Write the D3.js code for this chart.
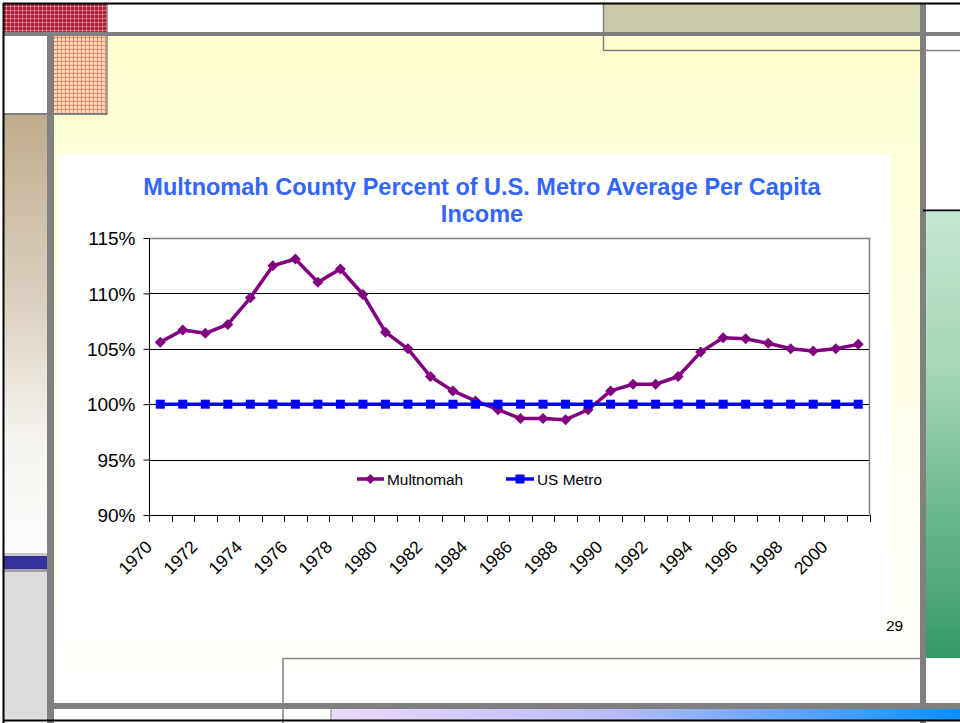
<!DOCTYPE html>
<html>
<head>
<meta charset="utf-8">
<script src="https://cdn.jsdelivr.net/npm/d3@7/dist/d3.min.js"></script>
<style>
  html, body { margin: 0; padding: 0; background: #fff; }
  svg { display: block; }
  text { font-family: "Liberation Sans", Arial, Helvetica, sans-serif; }
</style>
</head>
<body>
<svg id="chart" width="960" height="723"></svg>
<script>
// ---- Data ----
const years = [1970,1971,1972,1973,1974,1975,1976,1977,1978,1979,
               1980,1981,1982,1983,1984,1985,1986,1987,1988,1989,
               1990,1991,1992,1993,1994,1995,1996,1997,1998,1999,
               2000,2001];
const multnomah = [105.6,106.7,106.4,107.2,109.6,112.5,113.1,111.0,112.2,109.9,
                   106.5,105.0,102.5,101.2,100.3,99.5,98.7,98.7,98.6,99.5,
                   101.2,101.8,101.8,102.5,104.7,106.0,105.9,105.5,105.0,104.8,
                   105.0,105.4];
const usMetro = [100,100,100,100,100,100,100,100,100,100,
                 100,100,100,100,100,100,100,100,100,100,
                 100,100,100,100,100,100,100,100,100,100,
                 100,100];
const yTicks = [90,95,100,105,110,115];
const xTickLabels = [1970,1972,1974,1976,1978,1980,1982,1984,1986,1988,1990,1992,1994,1996,1998,2000];
const seriesNames = ["Multnomah","US Metro"];
const titleLines = ["Multnomah County Percent of U.S. Metro Average Per Capita","Income"];
const pageNumber = "29";

const svg = d3.select("#chart");
const defs = svg.append("defs");

// ---- Slide decoration ----
const g1 = defs.append("linearGradient").attr("id","bgYellow").attr("x1",0).attr("y1",0).attr("x2",0).attr("y2",1);
g1.append("stop").attr("offset","0%").attr("stop-color","#FFFFD0");
g1.append("stop").attr("offset","100%").attr("stop-color","#FFFFFF");
const g2 = defs.append("linearGradient").attr("id","tan").attr("x1",0).attr("y1",0).attr("x2",0).attr("y2",1);
g2.append("stop").attr("offset","0%").attr("stop-color","#BEAC8C");
g2.append("stop").attr("offset","45%").attr("stop-color","#DDD3C4");
g2.append("stop").attr("offset","75%").attr("stop-color","#F6F4F0");
g2.append("stop").attr("offset","100%").attr("stop-color","#FDFDFC");
const g3 = defs.append("linearGradient").attr("id","green").attr("x1",0).attr("y1",0).attr("x2",0).attr("y2",1);
g3.append("stop").attr("offset","0%").attr("stop-color","#C4E7D1");
g3.append("stop").attr("offset","35%").attr("stop-color","#A6D6B9");
g3.append("stop").attr("offset","100%").attr("stop-color","#339966");
const g4 = defs.append("linearGradient").attr("id","blueBar").attr("x1",0).attr("y1",0).attr("x2",1).attr("y2",0);
g4.append("stop").attr("offset","0%").attr("stop-color","#EDDAFB");
g4.append("stop").attr("offset","45%").attr("stop-color","#B9BCF7");
g4.append("stop").attr("offset","100%").attr("stop-color","#0A8FFF");

const pRed = defs.append("pattern").attr("id","plaidRed").attr("patternUnits","userSpaceOnUse").attr("width",4).attr("height",4);
pRed.append("rect").attr("width",4).attr("height",4).attr("fill","#B41E36");
pRed.append("rect").attr("x",2).attr("width",1).attr("height",4).attr("fill","#D86876");
pRed.append("rect").attr("y",2).attr("width",4).attr("height",1).attr("fill","#D86876");
pRed.append("rect").attr("x",2).attr("y",2).attr("width",1).attr("height",1).attr("fill","#F0B0B0");
const pOr = defs.append("pattern").attr("id","plaidOrange").attr("patternUnits","userSpaceOnUse").attr("width",4).attr("height",4);
pOr.append("rect").attr("width",4).attr("height",4).attr("fill","#F8D6B0");
pOr.append("rect").attr("x",1).attr("width",1).attr("height",4).attr("fill","#EE8A70");
pOr.append("rect").attr("y",1).attr("width",4).attr("height",1).attr("fill","#EE8A70");
pOr.append("rect").attr("x",3).attr("y",3).attr("width",1).attr("height",1).attr("fill","#FFF0D0");

const deco = svg.append("g");
const R = (x,y,w,h,fill) => deco.append("rect").attr("x",x).attr("y",y).attr("width",w).attr("height",h).attr("fill",fill);
const L = (x1,y1,x2,y2,stroke,w) => deco.append("line").attr("x1",x1).attr("y1",y1).attr("x2",x2).attr("y2",y2).attr("stroke",stroke).attr("stroke-width",w);

R(0,0,960,723,"#FFFFFF");
R(54,36,866,668,"url(#bgYellow)");
// top-left plaid blocks
R(4,4,103,28,"url(#plaidRed)");
R(54,36,52,77,"url(#plaidOrange)");
L(107,4,107,115,"#808080",1.5);
R(4,113,103,2,"#808080");
// left column
R(4,115,43,438,"url(#tan)");
R(4,553,43,3,"#C8C8C8");
R(4,556,43,13,"#333399");
R(4,569,43,3,"#A0A0A0");
R(4,572,43,147,"#DCDCDC");
// khaki top-right block
R(603,4,317,28,"#C9C8A9");
deco.append("path").attr("d","M603.5,4 V50.5 H960").attr("fill","none").attr("stroke","#808080").attr("stroke-width",1.5);
// gray bars
R(4,32,956,4,"#808080");
R(47,32,7,691,"#808080");
R(920,4,6,719,"#808080");
// right green block
L(923,210.5,960,210.5,"#000",2);
R(926,211.5,34,446.5,"url(#green)");
// bottom
deco.append("path").attr("d","M283,723 V658.5 H920").attr("fill","none").attr("stroke","#808080").attr("stroke-width",1.5);
R(47,703,913,6,"#808080");
R(331,709,629,11,"url(#blueBar)");
L(331,709,331,720,"#808080",1);
// black outer border
L(3.5,3,3.5,723,"#000",2);
L(3,3.5,960,3.5,"#000",2);
L(3,720.5,960,720.5,"#000",2);

// chart white box
R(59,154,832,486,"#FFFFFF");

// ---- Chart ----
const plot = {left:149, right:869.5, top:238, bottom:515};
const x = d3.scaleBand().domain(years).range([plot.left, plot.right]).paddingInner(0).paddingOuter(0);
const y = d3.scaleLinear().domain([90,115]).range([plot.bottom, plot.top]);
const cx = d => x(d) + x.bandwidth()/2;

const chart = svg.append("g");

// title
chart.append("text").attr("x",482).attr("y",195).attr("text-anchor","middle")
  .attr("font-size","23.5px").attr("font-weight","bold").attr("fill","#3366FF")
  .selectAll("tspan").data(titleLines).join("tspan")
  .attr("x",482).attr("dy",(d,i)=> i===0 ? 0 : 27).text(d=>d);

// gridlines
chart.append("g").selectAll("line").data(yTicks.filter(t=>t>90 && t<115)).join("line")
  .attr("x1",plot.left).attr("x2",plot.right)
  .attr("y1",d=>Math.round(y(d))+0.5).attr("y2",d=>Math.round(y(d))+0.5)
  .attr("stroke","#000").attr("stroke-width",1);

// plot border (top, right)
chart.append("path")
  .attr("d",`M${plot.left},${plot.top+0.5} H${plot.right} V${plot.bottom}`)
  .attr("fill","none").attr("stroke","#808080").attr("stroke-width",1.5);

// y axis
const yAxis = d3.axisLeft(y).tickValues(yTicks).tickSize(6).tickPadding(8).tickFormat(d=>d+"%");
const yg = chart.append("g").attr("transform",`translate(${plot.left+0.5},0)`).call(yAxis);
yg.select(".domain").attr("stroke","#000").attr("d",`M0,${plot.top}V${plot.bottom}`);
yg.selectAll(".tick line").attr("stroke","#000");
yg.selectAll(".tick text").attr("font-size","19px").attr("fill","#000")
  .attr("font-family",'"Liberation Sans", Arial, sans-serif').attr("dy","0.35em");

// x axis ticks at category boundaries
const xg = chart.append("g");
xg.append("line").attr("x1",plot.left).attr("x2",plot.right)
  .attr("y1",plot.bottom+0.5).attr("y2",plot.bottom+0.5).attr("stroke","#000");
const boundaries = years.map(d=>x(d)).concat([plot.right]);
xg.selectAll("line.tk").data(boundaries).join("line").attr("class","tk")
  .attr("x1",d=>Math.round(d)+0.5).attr("x2",d=>Math.round(d)+0.5)
  .attr("y1",plot.bottom).attr("y2",plot.bottom+7).attr("stroke","#000");
xg.selectAll("text").data(xTickLabels).join("text")
  .attr("transform",d=>`translate(${cx(d)-7},${plot.bottom+33}) rotate(-45)`)
  .attr("text-anchor","end").attr("font-size","17.5px").attr("fill","#000").text(d=>d);

// series
const diamond = s => `M0,${-s}L${s},0L0,${s}L${-s},0Z`;
const line = d3.line().x((d,i)=>cx(years[i])).y(d=>y(d));

const sM = chart.append("g");
sM.append("path").datum(multnomah).attr("d",line).attr("fill","none")
  .attr("stroke","#800080").attr("stroke-width",3.5).attr("stroke-linejoin","round");
sM.selectAll("path.m").data(multnomah).join("path").attr("class","m")
  .attr("transform",(d,i)=>`translate(${cx(years[i])},${y(d)})`)
  .attr("d",diamond(5.5)).attr("fill","#800080");

const sU = chart.append("g");
sU.append("path").datum(usMetro).attr("d",line).attr("fill","none")
  .attr("stroke","#0000FF").attr("stroke-width",3.5);
sU.selectAll("rect").data(usMetro).join("rect")
  .attr("x",(d,i)=>cx(years[i])-4.5).attr("y",d=>y(d)-4.5)
  .attr("width",9).attr("height",9).attr("fill","#0000FF");

// legend
const leg = chart.append("g");
const legItems = [
  {name:seriesNames[0], x1:357, x2:384, color:"#800080", marker:"diamond"},
  {name:seriesNames[1], x1:506, x2:534, color:"#0000FF", marker:"square"}
];
const ly = 479;
legItems.forEach(it=>{
  leg.append("line").attr("x1",it.x1).attr("x2",it.x2).attr("y1",ly).attr("y2",ly)
    .attr("stroke",it.color).attr("stroke-width",3.5);
  const mx = (it.x1+it.x2)/2;
  if (it.marker==="diamond") {
    leg.append("path").attr("transform",`translate(${mx},${ly})`).attr("d",diamond(5)).attr("fill",it.color);
  } else {
    leg.append("rect").attr("x",mx-4.5).attr("y",ly-4.5).attr("width",9).attr("height",9).attr("fill",it.color);
  }
  leg.append("text").attr("x",it.x2+3).attr("y",ly+6).attr("font-size","15.4px").attr("fill","#000").text(it.name);
});

// page number
svg.append("text").attr("x",886).attr("y",631).attr("font-size","15.5px").attr("fill","#000").text(pageNumber);
</script>
</body>
</html>
